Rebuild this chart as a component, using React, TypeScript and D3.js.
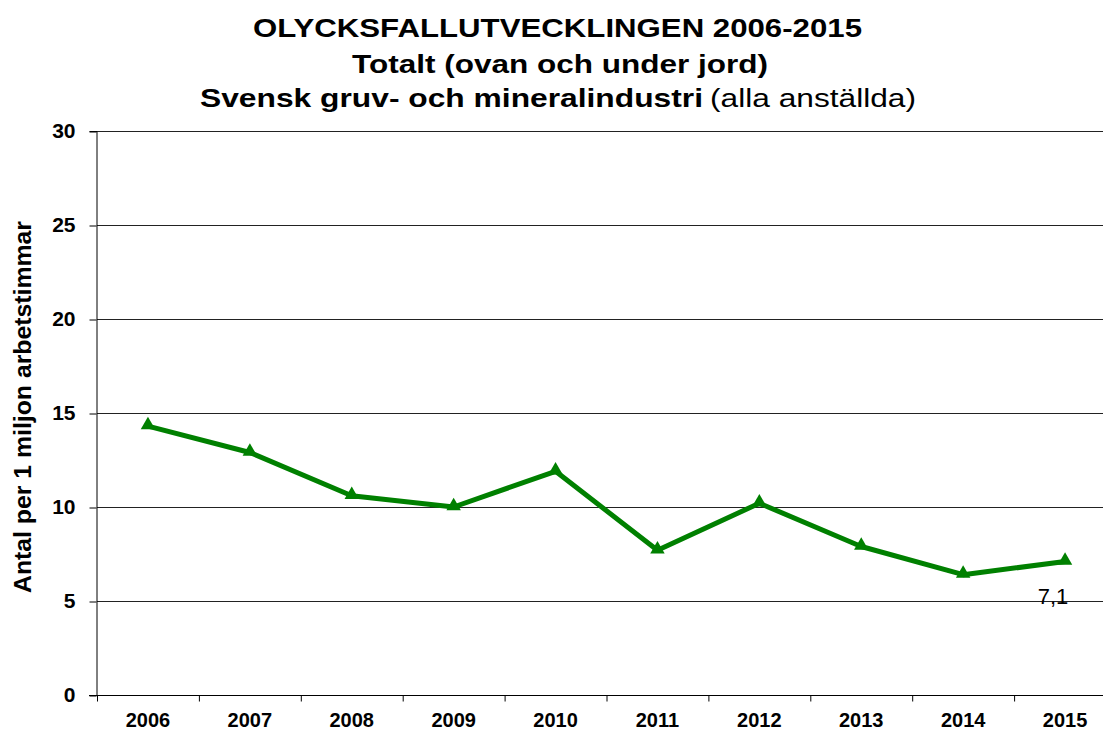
import React, { useEffect, useRef } from 'react';
import * as d3 from 'd3';

const years = ['2006', '2007', '2008', '2009', '2010', '2011', '2012', '2013', '2014', '2015'];
const values = [14.3, 12.9, 10.6, 10.0, 11.9, 7.7, 10.2, 7.9, 6.4, 7.1];
const yTicks = [0, 5, 10, 15, 20, 25, 30];

export default function App() {
  const ref = useRef<SVGSVGElement>(null);

  useEffect(() => {
    const svg = d3.select(ref.current);
    svg.selectAll('*').remove();

    const width = 1103;
    const height = 729;
    const left = 97;
    const top = 131;
    const bottom = 695;
    const font = 'Liberation Sans, Arial, sans-serif';

    svg.append('rect').attr('width', width).attr('height', height).attr('fill', '#fff');

    const x = d3.scaleBand().domain(years).range([left, left + 1019]);
    const y = d3.scaleLinear().domain([0, 30]).range([bottom, top]);

    // gridlines
    svg.append('g')
      .selectAll('line')
      .data(yTicks.filter(d => d > 0))
      .enter()
      .append('line')
      .attr('x1', left)
      .attr('x2', width)
      .attr('y1', d => y(d) + 0.5)
      .attr('y2', d => y(d) + 0.5)
      .attr('stroke', '#222')
      .attr('stroke-width', 1);

    // y axis
    const yAxis = svg.append('g')
      .attr('transform', `translate(${left - 0.5},0)`)
      .call(d3.axisLeft(y).tickValues(yTicks).tickSize(7).tickPadding(14));
    yAxis.select('.domain').attr('stroke', '#000');
    yAxis.selectAll('.tick line').attr('stroke', '#000').attr('transform', 'translate(0,0.5)');
    yAxis.selectAll('text')
      .attr('font-family', font)
      .attr('font-size', 21)
      .attr('font-weight', 'bold')
      .attr('fill', '#000');

    // x axis
    const xAxis = svg.append('g')
      .attr('transform', `translate(0,${bottom + 0.5})`);
    xAxis.append('line')
      .attr('x1', left - 8).attr('x2', width)
      .attr('stroke', '#000');
    xAxis.selectAll('.tk')
      .data(years)
      .enter()
      .append('line')
      .attr('x1', d => (x(d) as number) + 0.5)
      .attr('x2', d => (x(d) as number) + 0.5)
      .attr('y1', 0)
      .attr('y2', 6)
      .attr('stroke', '#000');
    xAxis.selectAll('text')
      .data(years)
      .enter()
      .append('text')
      .attr('x', d => (x(d) as number) + x.bandwidth() / 2)
      .attr('y', 31)
      .attr('text-anchor', 'middle')
      .attr('font-family', font)
      .attr('font-size', 20)
      .attr('font-weight', 'bold')
      .text(d => d);

    // line
    const cx = (d: string) => (x(d) as number) + x.bandwidth() / 2;
    const line = d3.line<number>()
      .x((d, i) => cx(years[i]))
      .y(d => y(d));

    svg.append('path')
      .datum(values)
      .attr('d', line)
      .attr('fill', 'none')
      .attr('stroke', '#008000')
      .attr('stroke-width', 5)
      .attr('stroke-linejoin', 'round');

    const tri = d3.symbol().type(d3.symbolTriangle).size(90);
    svg.selectAll('.marker')
      .data(values)
      .enter()
      .append('path')
      .attr('d', tri)
      .attr('transform', (d, i) => `translate(${cx(years[i])},${y(d) - 1})`)
      .attr('fill', '#008000');

    // data label for last point
    const last = values.length - 1;
    svg.append('text')
      .attr('x', cx(years[last]) - 12)
      .attr('y', y(values[last]) + 42)
      .attr('text-anchor', 'middle')
      .attr('font-family', font)
      .attr('font-size', 22)
      .attr('fill', '#000')
      .text(String(values[last]).replace('.', ','));

    // y label
    svg.append('text')
      .attr('transform', 'translate(31,407) rotate(-90)')
      .attr('text-anchor', 'middle')
      .attr('textLength', 372)
      .attr('lengthAdjust', 'spacingAndGlyphs')
      .attr('font-family', font)
      .attr('font-size', 23)
      .attr('font-weight', 'bold')
      .text('Antal per 1 miljon arbetstimmar');

    // titles
    svg.append('text')
      .attr('x', 253).attr('y', 37)
      .attr('textLength', 609)
      .attr('lengthAdjust', 'spacingAndGlyphs')
      .attr('font-family', font)
      .attr('font-size', 26)
      .attr('font-weight', 'bold')
      .text('OLYCKSFALLUTVECKLINGEN 2006-2015');

    svg.append('text')
      .attr('x', 352).attr('y', 73)
      .attr('textLength', 416)
      .attr('lengthAdjust', 'spacingAndGlyphs')
      .attr('font-family', font)
      .attr('font-size', 26)
      .attr('font-weight', 'bold')
      .text('Totalt (ovan och under jord)');

    svg.append('text')
      .attr('x', 200).attr('y', 107)
      .attr('textLength', 503)
      .attr('lengthAdjust', 'spacingAndGlyphs')
      .attr('font-family', font)
      .attr('font-size', 26)
      .attr('font-weight', 'bold')
      .text('Svensk gruv- och mineralindustri');

    svg.append('text')
      .attr('x', 710).attr('y', 107)
      .attr('textLength', 206)
      .attr('lengthAdjust', 'spacingAndGlyphs')
      .attr('font-family', font)
      .attr('font-size', 26)
      .text('(alla anställda)');
  }, []);

  return (
    <svg
      ref={ref}
      width={1103}
      height={729}
      style={{ position: 'absolute', left: 0, top: 0, display: 'block' }}
    />
  );
}
